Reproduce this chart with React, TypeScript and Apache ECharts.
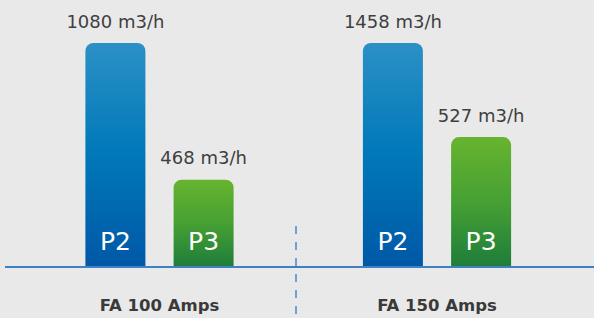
import React, { useEffect, useRef } from "react";
import * as echarts from "echarts";

// Categories (x axis)
const categories = ["FA 100 Amps", "FA 150 Amps"];
// Pump names shown inside the bars
const pumpNames = ["P2", "P3"];
// Flow rates shown above the bars (m3/h)
const p2Flow = [1080, 1458];
const p3Flow = [468, 527];
// Bar heights as drawn in the infographic (relative level, tallest = 100)
const p2Levels = [100, 100];
const p3Levels = [39, 58];
const flowUnit = "m3/h";

export default function App() {
  const ref = useRef<HTMLDivElement>(null);

  useEffect(() => {
    if (!ref.current) return;
    const chart = echarts.init(ref.current, null, { renderer: "svg" });
    const font = "'DejaVu Sans', sans-serif";
    const gridBottom = 51;
    const baseY = 318 - gridBottom;

    const mkSeries = (name: string, levels: number[], flows: number[], top: string, mid: string, bottom: string) => ({
      name,
      type: "bar",
      barWidth: 60,
      barGap: "47%",
      data: levels,
      itemStyle: {
        borderRadius: [8, 8, 0, 0],
        color: new echarts.graphic.LinearGradient(0, 0, 0, 1, [
          { offset: 0, color: top },
          { offset: 0.5, color: mid },
          { offset: 1, color: bottom },
        ]),
      },
      label: {
        show: true,
        position: "top",
        distance: 13,
        formatter: (p: any) => `${flows[p.dataIndex]} ${flowUnit}`,
        color: "#3f3f3f",
        fontSize: 18,
        fontFamily: font,
      },
      emphasis: { disabled: true },
    });

    const overlay = (name: string, levels: number[]) => ({
      name: name + "_in",
      type: "bar",
      barWidth: 60,
      barGap: "47%",
      data: levels,
      itemStyle: { color: "rgba(0,0,0,0)" },
      label: {
        show: true,
        position: "insideBottom",
        distance: 13,
        formatter: name,
        color: "#ffffff",
        fontSize: 25,
        fontFamily: font,
      },
      emphasis: { disabled: true },
      silent: true,
      xAxisIndex: 1,
      z: 3,
    });

    chart.setOption({
      animation: false,
      backgroundColor: "#e9e9e9",
      grid: { left: 20.75, right: 18.25, top: 43, bottom: gridBottom },
      xAxis: [
        {
          type: "category",
          data: categories,
          axisLine: { show: false },
          axisTick: { show: false },
          axisLabel: {
            color: "#3a3a3a",
            fontWeight: "bold",
            fontSize: 16.5,
            fontFamily: font,
            margin: 30,
          },
        },
        { type: "category", data: categories, show: false },
      ],
      yAxis: { type: "value", min: 0, max: 100, show: false },
      series: [
        mkSeries(pumpNames[0], p2Levels, p2Flow, "#2b90c6", "#0078b9", "#0058a6"),
        mkSeries(pumpNames[1], p3Levels, p3Flow, "#67b42f", "#46a033", "#1e7d3a"),
        overlay(pumpNames[0], p2Levels),
        overlay(pumpNames[1], p3Levels),
      ],
      graphic: [
        {
          type: "line",
          shape: { x1: 5, y1: baseY, x2: 594, y2: baseY },
          style: { stroke: "#3e82c4", lineWidth: 2 },
          z: 10,
        },
        {
          type: "line",
          shape: { x1: 296, y1: 226, x2: 296, y2: 318 },
          style: { stroke: "#4a87c3", lineWidth: 1.5, lineDash: [8, 8] },
          z: 10,
        },
      ],
    });
    return () => chart.dispose();
  }, []);

  return (
    <div
      ref={ref}
      style={{ position: "fixed", left: 0, top: 0, width: 594, height: 318 }}
    />
  );
}
